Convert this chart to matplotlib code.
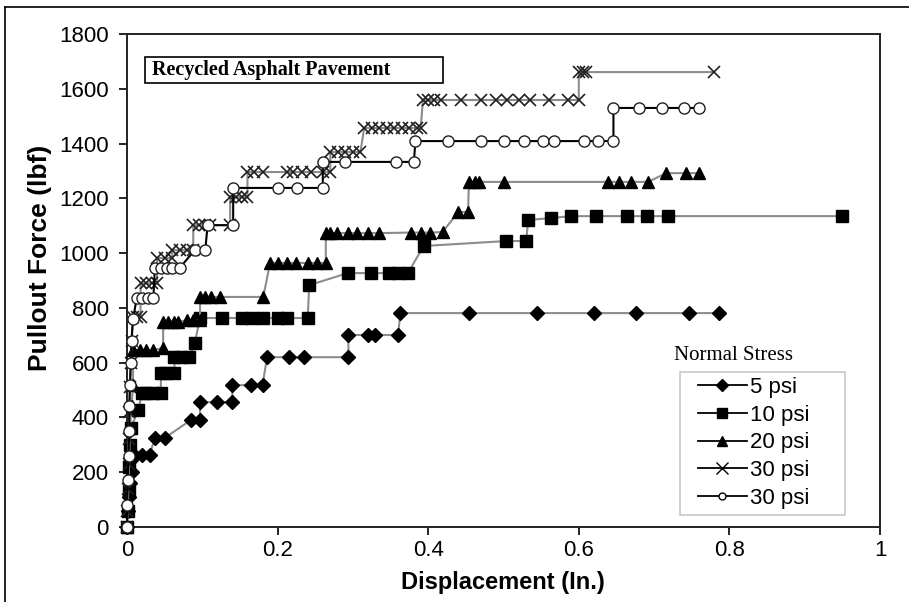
import matplotlib
matplotlib.use('Agg')
import matplotlib.pyplot as plt
from matplotlib.lines import Line2D
from matplotlib.patches import Rectangle

plt.rcParams['font.family'] = ['Liberation Sans', 'DejaVu Sans']

# ---------------- data ----------------
x_5psi = [0, 0.001, 0.002, 0.004, 0.006, 0.01, 0.02, 0.03, 0.037, 0.05,
          0.085, 0.097, 0.097, 0.12, 0.14, 0.14, 0.165, 0.18, 0.186, 0.215,
          0.235, 0.294, 0.294, 0.32, 0.33, 0.36, 0.363, 0.454, 0.545, 0.62,
          0.676, 0.746, 0.786]
y_5psi = [0, 60, 110, 160, 200, 260, 263, 263, 325, 325,
          391, 391, 456, 456, 456, 518, 518, 518, 620, 620,
          620, 620, 701, 701, 701, 701, 781, 781, 781, 781,
          781, 781, 781]

x_10psi = [0, 0.001, 0.002, 0.003, 0.004, 0.005, 0.015, 0.02, 0.025, 0.035,
           0.045, 0.045, 0.052, 0.063, 0.063, 0.072, 0.083, 0.09, 0.097, 0.126,
           0.153, 0.166, 0.181, 0.2, 0.213, 0.24, 0.242, 0.293, 0.324, 0.348,
           0.36, 0.373, 0.394, 0.503, 0.53, 0.533, 0.563, 0.59, 0.623, 0.664,
           0.69, 0.719, 0.949]
y_10psi = [0, 60, 130, 220, 300, 361, 427, 489, 489, 489,
           489, 562, 562, 562, 621, 621, 621, 672, 763, 763,
           763, 763, 763, 763, 763, 763, 883, 927, 927, 927,
           927, 927, 1026, 1044, 1044, 1121, 1128, 1135, 1135, 1135,
           1135, 1135, 1135]

x_20psi = [0, 0.001, 0.002, 0.003, 0.004, 0.006, 0.008, 0.008, 0.017, 0.025,
           0.035, 0.048, 0.048, 0.055, 0.062, 0.068, 0.08, 0.088, 0.097, 0.097,
           0.104, 0.112, 0.124, 0.181, 0.19, 0.2, 0.212, 0.225, 0.24, 0.252,
           0.264, 0.264, 0.27, 0.279, 0.293, 0.306, 0.32, 0.334, 0.377, 0.39,
           0.403, 0.419, 0.44, 0.453, 0.454, 0.462, 0.467, 0.5, 0.639, 0.654,
           0.669, 0.692, 0.716, 0.743, 0.759]
y_20psi = [0, 80, 160, 260, 360, 440, 518, 646, 646, 646,
           646, 653, 748, 750, 750, 748, 756, 756, 756, 840,
           840, 840, 840, 840, 964, 964, 964, 964, 964, 964,
           964, 1073, 1073, 1073, 1073, 1073, 1073, 1073, 1075, 1075,
           1075, 1077, 1150, 1150, 1260, 1260, 1260, 1260, 1260, 1260,
           1260, 1260, 1292, 1292, 1292]

x_30psi_a = [0, 0, 0.001, 0.002, 0.002, 0.003, 0.004, 0.005, 0.006, 0.008,
             0.013, 0.018, 0.018, 0.025, 0.033, 0.04, 0.04, 0.05, 0.06, 0.06,
             0.07, 0.08, 0.088, 0.088, 0.095, 0.103, 0.11, 0.137, 0.137, 0.145,
             0.153, 0.16, 0.16, 0.168, 0.18, 0.212, 0.22, 0.232, 0.245, 0.26,
             0.27, 0.27, 0.28, 0.29, 0.3, 0.31, 0.315, 0.325, 0.335, 0.345,
             0.355, 0.365, 0.375, 0.385, 0.39, 0.393, 0.4, 0.408, 0.417, 0.443,
             0.47, 0.49, 0.505, 0.52, 0.535, 0.56, 0.585, 0.6, 0.6, 0.605,
             0.61, 0.779]
y_30psi_a = [0, 60, 140, 230, 320, 420, 510, 600, 680, 766,
             766, 766, 890, 890, 890, 890, 982, 982, 982, 1011,
             1011, 1011, 1011, 1102, 1102, 1102, 1102, 1102, 1205, 1205,
             1205, 1205, 1296, 1296, 1296, 1296, 1296, 1296, 1296, 1296,
             1296, 1369, 1369, 1369, 1369, 1369, 1457, 1457, 1457, 1457,
             1457, 1457, 1457, 1457, 1457, 1559, 1559, 1559, 1559, 1559,
             1559, 1559, 1559, 1559, 1559, 1559, 1559, 1559, 1661, 1661,
             1661, 1661]

x_30psi_b = [0, 0, 0.001, 0.002, 0.003, 0.003, 0.004, 0.005, 0.006, 0.008,
             0.013, 0.02, 0.028, 0.035, 0.037, 0.045, 0.053, 0.06, 0.07, 0.09,
             0.104, 0.107, 0.141, 0.141, 0.2, 0.226, 0.26, 0.26, 0.29, 0.357,
             0.381, 0.383, 0.426, 0.47, 0.501, 0.527, 0.553, 0.567, 0.607, 0.626,
             0.646, 0.646, 0.68, 0.71, 0.74, 0.76]
y_30psi_b = [0, 80, 170, 260, 350, 440, 520, 600, 680, 760,
             836, 836, 836, 836, 946, 946, 946, 946, 946, 1011,
             1011, 1102, 1102, 1238, 1238, 1238, 1238, 1333, 1333, 1333,
             1333, 1409, 1409, 1409, 1409, 1409, 1409, 1409, 1409, 1409,
             1409, 1530, 1530, 1530, 1530, 1530]

series_labels = ['5 psi', '10 psi', '20 psi', '30 psi', '30 psi']
x_ticks = [0, 0.2, 0.4, 0.6, 0.8, 1.0]
x_tick_labels = ['0', '0.2', '0.4', '0.6', '0.8', '1']
y_ticks = [0, 200, 400, 600, 800, 1000, 1200, 1400, 1600, 1800]

# ---------------- figure ----------------
W, H = 909, 602
fig = plt.figure(figsize=(W / 100, H / 100), dpi=100)
fig.patch.set_facecolor('white')

def fx(px):
    return px / W

def fy(py):
    return 1 - py / H

ax = fig.add_axes([fx(127), fy(527), fx(880) - fx(127), fy(34) - fy(527)])

styles = [
    dict(marker='D', ms=7, color='#8c8c8c', mfc='black', mec='black'),
    dict(marker='s', ms=8, color='#8c8c8c', mfc='black', mec='black'),
    dict(marker='^', ms=9, color='#8c8c8c', mfc='black', mec='black'),
    dict(marker='x', ms=9, color='#8c8c8c', mfc='black', mec='#202020', mew=1.2),
    dict(marker='o', ms=8, color='black', mfc='white', mec='#202020', mew=1.0),
]
data = [(x_5psi, y_5psi), (x_10psi, y_10psi), (x_20psi, y_20psi),
        (x_30psi_a, y_30psi_a), (x_30psi_b, y_30psi_b)]

for (xs, ys), st in zip(data, styles):
    ax.plot(xs, ys, lw=1.5, clip_on=False, zorder=3, **st)

ax.set_xlim(0, 1)
ax.set_ylim(0, 1800)
ax.set_xticks(x_ticks)
ax.set_xticklabels(x_tick_labels)
ax.set_yticks(y_ticks)
ax.tick_params(axis='both', direction='out', length=6, width=1.2,
               labelsize=16, colors='black')
ax.tick_params(axis='x', pad=3)
ax.tick_params(axis='y', pad=7)
for sp in ax.spines.values():
    sp.set_linewidth(1.4)
    sp.set_color('#222222')

# axis labels
fig.text(fx(503), fy(582), 'Displacement (In.)', ha='center', va='center',
         fontsize=17, fontweight='bold')
fig.text(fx(40), fy(258), 'Pullout Force (lbf)', ha='center', va='center',
         rotation=90, fontsize=19, fontweight='bold')

# title box
fig.add_artist(Rectangle((fx(145), fy(83)), fx(443) - fx(145), fy(57) - fy(83),
                         transform=fig.transFigure, fill=False,
                         edgecolor='black', lw=1.2))
fig.text(fx(152), fy(70), 'Recycled Asphalt Pavement', ha='left', va='center',
         fontsize=14.5, fontweight='bold', family=['Liberation Serif', 'DejaVu Serif'])

# legend
leg_styles = [
    dict(marker='D', ms=6, mfc='black', mec='black'),
    dict(marker='s', ms=7, mfc='black', mec='black'),
    dict(marker='^', ms=7, mfc='black', mec='black'),
    dict(marker='x', ms=8, mfc='black', mec='black', mew=1.0),
    dict(marker='o', ms=5, mfc='white', mec='black', mew=1.0),
]
handles = [Line2D([], [], color='black', lw=1.3, **s) for s in leg_styles]
fig.add_artist(Rectangle((fx(680), fy(515)), fx(845) - fx(680), fy(372) - fy(515),
                         transform=fig.transFigure, fill=True, facecolor='white',
                         edgecolor='#c8c8c8', lw=1.2, zorder=4))
leg = fig.legend(handles, series_labels, loc='upper left',
                 bbox_to_anchor=(fx(698), fy(377)), bbox_transform=fig.transFigure,
                 frameon=False, fontsize=16, handlelength=2.2, handletextpad=0.12,
                 borderpad=0, borderaxespad=0, labelspacing=0.30)
leg.set_zorder(5)
fig.text(fx(734), fy(355), 'Normal Stress', ha='center', va='center',
         fontsize=15, family=['Liberation Serif', 'DejaVu Serif'])

# outer frame
fig.add_artist(Line2D([fx(5), fx(5)], [0, fy(7)], transform=fig.transFigure,
                      color='black', lw=1.2))
fig.add_artist(Line2D([fx(5), 1], [fy(7), fy(7)], transform=fig.transFigure,
                      color='black', lw=1.2))

fig.savefig('out.png', dpi=100)
